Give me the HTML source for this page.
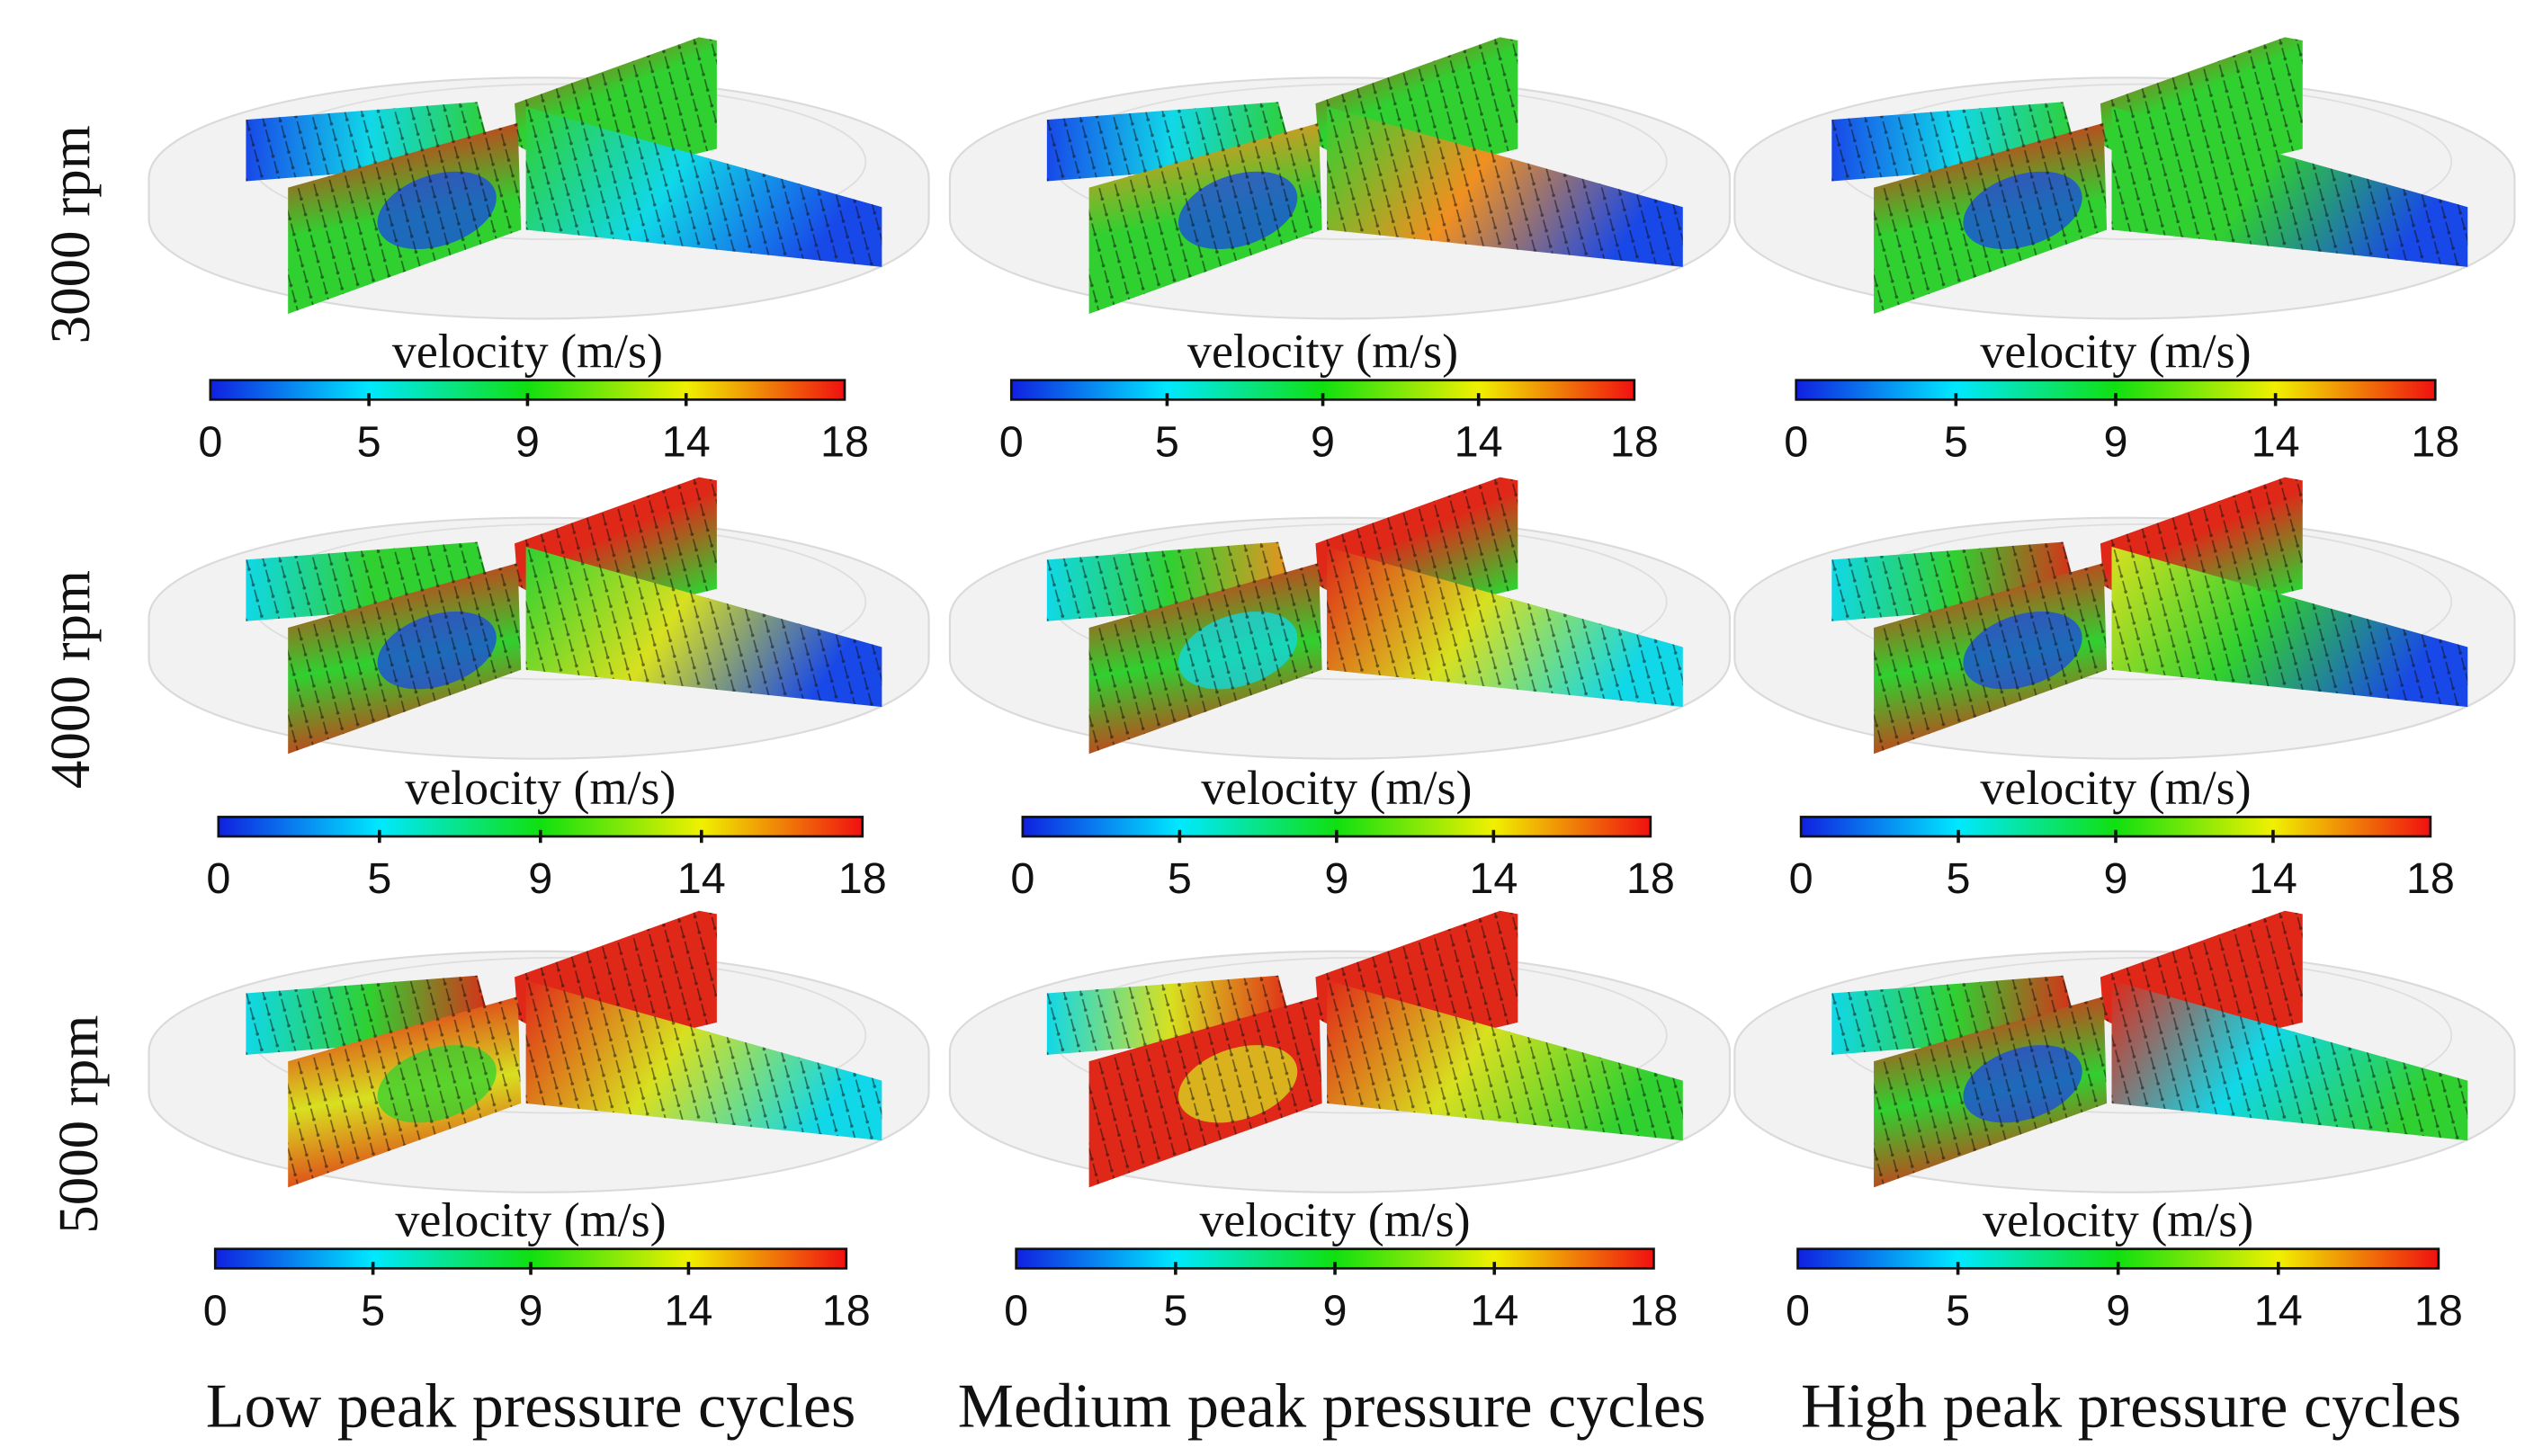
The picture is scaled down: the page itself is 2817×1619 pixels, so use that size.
<!DOCTYPE html>
<html><head><meta charset="utf-8">
<style>html,body{margin:0;padding:0;background:#fff}svg{display:block}</style></head>
<body>
<svg id="fig" width="2817" height="1619" viewBox="0 0 1566 900" preserveAspectRatio="none" xmlns="http://www.w3.org/2000/svg">
<defs>
<linearGradient id="jet" x1="0" x2="1" y1="0" y2="0">
<stop offset="0" stop-color="#1020e0"/><stop offset="0.25" stop-color="#00e8ff"/><stop offset="0.5" stop-color="#10e010"/><stop offset="0.75" stop-color="#f0f000"/><stop offset="1" stop-color="#f01010"/>
</linearGradient>
<pattern id="arrows" width="10" height="10" patternUnits="userSpaceOnUse" patternTransform="rotate(75)">
<line x1="0" y1="2" x2="7" y2="2" stroke="#111" stroke-width="0.9"/><circle cx="7" cy="2" r="1" fill="#111"/>
</pattern>
</defs>
<g id="panels"></g>
<g id="bars"></g>
<g id="labels" font-family="Liberation Serif, serif" fill="#111">
<text transform="translate(55,145) rotate(-90)" text-anchor="middle" font-size="35">3000 rpm</text>
<text transform="translate(55,420) rotate(-90)" text-anchor="middle" font-size="35">4000 rpm</text>
<text transform="translate(60,695) rotate(-90)" text-anchor="middle" font-size="35">5000 rpm</text>
<text x="328" y="882" text-anchor="middle" font-size="39">Low peak pressure cycles</text>
<text x="823" y="882" text-anchor="middle" font-size="39">Medium peak pressure cycles</text>
<text x="1317" y="882" text-anchor="middle" font-size="39">High peak pressure cycles</text>
</g>
</svg>
<script>
const tickLabels=["0","5","9","14","18"];
const tickValues=[0,5,9,14,18];
const colOffsets=[0,495,980];
const rowOffsets=[0,272,540];
const barX0=[[130,625,1110],[135,632,1113],[133,628,1111]];
const barX1=[[522,1010,1505],[533,1020,1502],[523,1022,1507]];
const barY=[235,505,772];
// per panel: slab[3], front[3] (top->bottom), right[3] (left->right), back[3], centre-blob colour
const B="#1848e8",C="#10d8e8",G="#30d030",Y="#d8e020",O="#f09020",R="#e02818",LG="#60d040";
const palette=[
 [[B,C,G],[R,G,G],[G,C,B],[R,G,G],B],
 [[B,C,G],[O,G,G],[G,O,B],[R,G,G],B],
 [[B,C,G],[R,G,G],[G,G,B],[R,G,G],B],
 [[C,G,G],[R,G,R],[G,Y,B],[R,R,G],B],
 [[C,G,O],[R,G,R],[R,Y,C],[R,R,G],C],
 [[C,G,R],[R,G,R],[Y,G,B],[R,R,G],B],
 [[C,G,R],[R,Y,R],[R,Y,C],[R,R,R],G],
 [[C,Y,R],[R,R,R],[R,Y,G],[R,R,R],Y],
 [[C,G,R],[R,G,R],[R,C,G],[R,R,R],B]
];
const NS="http://www.w3.org/2000/svg";
const P=document.getElementById('panels'),BR=document.getElementById('bars');
function mk(tag,attrs,parent){const e=document.createElementNS(NS,tag);for(const k in attrs)e.setAttribute(k,attrs[k]);parent.appendChild(e);return e;}
let gid=0;
function grad(cs,x1,y1,x2,y2){const d=document.querySelector('defs');const id='g'+(gid++);const g=mk('linearGradient',{id:id,x1:x1,y1:y1,x2:x2,y2:y2},d);cs.forEach((c,i)=>mk('stop',{offset:i/(cs.length-1),'stop-color':c},g));return 'url(#'+id+')';}
function plane(g,pts,fill,name,blob){
 const p=mk('polygon',{points:pts,fill:fill},g);
 
 
 if(blob){const e=mk('ellipse',{cx:blob[0],cy:blob[1],rx:blob[2],ry:blob[3],fill:blob[4],opacity:0.75,transform:'rotate(-18 '+blob[0]+' '+blob[1]+')'},g);
  
  }
 const a=mk('polygon',{points:pts,fill:'url(#arrows)',opacity:0.55},g);
 
 
}
for(let r=0;r<3;r++)for(let c=0;c<3;c++){
 const pal=palette[r*3+c];
 const g=mk('g',{transform:'translate('+colOffsets[c]+','+rowOffsets[r]+')'},P);
 
 
 const cyl=mk('path',{d:'M92,110 A241,62 0 0 1 574,110 L574,135 A241,62 0 0 1 92,135 Z',fill:'#f2f2f2',stroke:'#dadada','stroke-width':1.2},g);
 
 
 mk('ellipse',{cx:345,cy:100,rx:190,ry:48,fill:'none',stroke:'#dedede','stroke-width':1},g);
 plane(g,'318,64 432,23 443,25 443,92 360,112 320,90',grad(pal[3],0,0,0.6,1),'back-plane');
 plane(g,'152,74 295,63 305,100 152,112',grad(pal[0],0,0,1,0),'left-slab');
 plane(g,'325,66 545,128 545,165 325,142',grad(pal[2],0,0,1,0.3),'right-plane',null);
 const fb=[270,130,38,22,pal[4]];
 plane(g,'178,116 320,76 322,142 178,194',grad(pal[1],0.4,0,0.6,1),'front-plane',fb);
}
for(let r=0;r<3;r++)for(let c=0;c<3;c++){
 const x0=barX0[r][c],x1=barX1[r][c],y=barY[r];
 const xs=v=>x0+(x1-x0)*(tickValues.indexOf(v)/(tickValues.length-1));
 const g=mk('g',{},BR);
 
 
 const t=mk('text',{x:(x0+x1)/2,y:y-8,'text-anchor':'middle','font-size':30,'font-family':'Liberation Serif, serif',fill:'#111'},g);
 t.textContent='velocity (m/s)';
 
 
 mk('rect',{x:x0,y:y,width:x1-x0,height:12,fill:'url(#jet)',stroke:'#111','stroke-width':1.5},g);
 tickValues.forEach((v,i)=>{
  const x=xs(v);
  if(i>0&&i<tickValues.length-1)mk('line',{x1:x,x2:x,y1:y+8,y2:y+16,stroke:'#111','stroke-width':2},g);
  const l=mk('text',{x:x,y:y+47,'text-anchor':'middle','font-size':27,'font-family':'Liberation Sans, sans-serif',fill:'#111'},g);
  l.textContent=tickLabels[i];
  
  
 });
}
</script>
</body></html>
